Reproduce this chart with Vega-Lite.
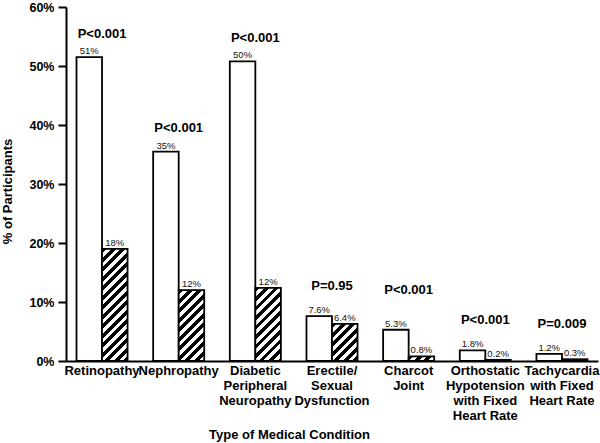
{
  "$schema": "https://vega.github.io/schema/vega-lite/v6.json",
  "width": 532,
  "height": 354,
  "autosize": {"type": "none"},
  "padding": {"left": 66, "top": 7, "right": 2, "bottom": 82},
  "background": "white",
  "config": {"view": {"stroke": null}, "font": "Liberation Sans"},
  "data": {
    "values": [
      {"condition": "Retinopathy", "group": "A", "value": 51.5, "label": "51%", "p": "P<0.001"},
      {"condition": "Retinopathy", "group": "B", "value": 19.0, "label": "18%", "p": "P<0.001"},
      {"condition": "Nephropathy", "group": "A", "value": 35.5, "label": "35%", "p": "P<0.001"},
      {"condition": "Nephropathy", "group": "B", "value": 12.0, "label": "12%", "p": "P<0.001"},
      {"condition": "Diabetic|Peripheral|Neuropathy", "group": "A", "value": 50.8, "label": "50%", "p": "P<0.001"},
      {"condition": "Diabetic|Peripheral|Neuropathy", "group": "B", "value": 12.4, "label": "12%", "p": "P<0.001"},
      {"condition": "Erectile/|Sexual|Dysfunction", "group": "A", "value": 7.6, "label": "7.6%", "p": "P=0.95"},
      {"condition": "Erectile/|Sexual|Dysfunction", "group": "B", "value": 6.3, "label": "6.4%", "p": "P=0.95"},
      {"condition": "Charcot|Joint", "group": "A", "value": 5.3, "label": "5.3%", "p": "P<0.001"},
      {"condition": "Charcot|Joint", "group": "B", "value": 0.8, "label": "0.8%", "p": "P<0.001"},
      {"condition": "Orthostatic|Hypotension|with Fixed|Heart Rate", "group": "A", "value": 1.8, "label": "1.8%", "p": "P<0.001"},
      {"condition": "Orthostatic|Hypotension|with Fixed|Heart Rate", "group": "B", "value": 0.2, "label": "0.2%", "p": "P<0.001"},
      {"condition": "Tachycardia|with Fixed|Heart Rate", "group": "A", "value": 1.2, "label": "1.2%", "p": "P=0.009"},
      {"condition": "Tachycardia|with Fixed|Heart Rate", "group": "B", "value": 0.3, "label": "0.3%", "p": "P=0.009"}
    ]
  },
  "encoding": {
    "x": {
      "field": "condition",
      "type": "nominal",
      "sort": null,
      "scale": {
        "domain": ["Retinopathy", "Nephropathy", "Diabetic|Peripheral|Neuropathy", "Erectile/|Sexual|Dysfunction", "Charcot|Joint", "Orthostatic|Hypotension|with Fixed|Heart Rate", "Tachycardia|with Fixed|Heart Rate"],
        "paddingInner": 0.334,
        "paddingOuter": 0.137
      },
      "axis": {
        "title": "Type of Medical Condition",
        "labelExpr": "split(datum.label, '|')",
        "labelAngle": 0,
        "ticks": false,
        "tickSize": 0,
        "labelPadding": 3,
        "labelFontSize": 13,
        "labelFontWeight": "bold",
        "labelLineHeight": 15,
        "labelLimit": 300,
        "labelOverlap": false,
        "labelBound": false,
        "labelColor": "black",
        "domainColor": "black",
        "domainWidth": 2,
        "titleFontSize": 13,
        "titleFontWeight": "bold",
        "titleColor": "black",
        "titleX": 223,
        "titleY": 77,
        "titleBaseline": "alphabetic"
      }
    },
    "y": {
      "field": "value",
      "type": "quantitative",
      "scale": {"domain": [0, 60], "nice": false},
      "axis": {
        "title": "% of Participants",
        "values": [0, 10, 20, 30, 40, 50, 60],
        "labelExpr": "datum.value + '%'",
        "grid": false,
        "tickSize": 8,
        "tickWidth": 2,
        "tickColor": "black",
        "domainColor": "black",
        "domainWidth": 2,
        "labelPadding": 4,
        "labelFontSize": 12.5,
        "labelFontWeight": "bold",
        "labelColor": "black",
        "titleFontSize": 13,
        "titleFontWeight": "bold",
        "titleColor": "black",
        "titleAngle": 270,
        "titleX": -55,
        "titleY": 184,
        "titleBaseline": "alphabetic",
        "titleAlign": "center"
      }
    }
  },
  "layer": [
    {
      "transform": [{"filter": "datum.group === 'A'"}],
      "mark": {"type": "bar", "fill": "white", "stroke": "black", "strokeWidth": 1.8},
      "encoding": {"xOffset": {"field": "group", "type": "nominal", "scale": {"domain": ["A", "B"], "paddingInner": 0, "paddingOuter": 0}}}
    },
    {
      "transform": [{"filter": "datum.group === 'B' && datum.condition === 'Retinopathy'"}],
      "mark": {"type": "bar", "stroke": "black", "strokeWidth": 1.8,
        "fill": {"gradient": "linear", "x1": 0, "y1": 0, "x2": 0.2933, "y2": 1.2893, "stops": [
          {"offset": 0, "color": "black"}, {"offset": 0.03125, "color": "black"}, {"offset": 0.03125, "color": "white"}, {"offset": 0.0625, "color": "white"},
          {"offset": 0.0625, "color": "black"}, {"offset": 0.09375, "color": "black"}, {"offset": 0.09375, "color": "white"}, {"offset": 0.125, "color": "white"},
          {"offset": 0.125, "color": "black"}, {"offset": 0.15625, "color": "black"}, {"offset": 0.15625, "color": "white"}, {"offset": 0.1875, "color": "white"},
          {"offset": 0.1875, "color": "black"}, {"offset": 0.21875, "color": "black"}, {"offset": 0.21875, "color": "white"}, {"offset": 0.25, "color": "white"},
          {"offset": 0.25, "color": "black"}, {"offset": 0.28125, "color": "black"}, {"offset": 0.28125, "color": "white"}, {"offset": 0.3125, "color": "white"},
          {"offset": 0.3125, "color": "black"}, {"offset": 0.34375, "color": "black"}, {"offset": 0.34375, "color": "white"}, {"offset": 0.375, "color": "white"},
          {"offset": 0.375, "color": "black"}, {"offset": 0.40625, "color": "black"}, {"offset": 0.40625, "color": "white"}, {"offset": 0.4375, "color": "white"},
          {"offset": 0.4375, "color": "black"}, {"offset": 0.46875, "color": "black"}, {"offset": 0.46875, "color": "white"}, {"offset": 0.5, "color": "white"},
          {"offset": 0.5, "color": "black"}, {"offset": 0.53125, "color": "black"}, {"offset": 0.53125, "color": "white"}, {"offset": 0.5625, "color": "white"},
          {"offset": 0.5625, "color": "black"}, {"offset": 0.59375, "color": "black"}, {"offset": 0.59375, "color": "white"}, {"offset": 0.625, "color": "white"},
          {"offset": 0.625, "color": "black"}, {"offset": 0.65625, "color": "black"}, {"offset": 0.65625, "color": "white"}, {"offset": 0.6875, "color": "white"},
          {"offset": 0.6875, "color": "black"}, {"offset": 0.71875, "color": "black"}, {"offset": 0.71875, "color": "white"}, {"offset": 0.75, "color": "white"},
          {"offset": 0.75, "color": "black"}, {"offset": 0.78125, "color": "black"}, {"offset": 0.78125, "color": "white"}, {"offset": 0.8125, "color": "white"},
          {"offset": 0.8125, "color": "black"}, {"offset": 0.84375, "color": "black"}, {"offset": 0.84375, "color": "white"}, {"offset": 0.875, "color": "white"},
          {"offset": 0.875, "color": "black"}, {"offset": 0.90625, "color": "black"}, {"offset": 0.90625, "color": "white"}, {"offset": 0.9375, "color": "white"},
          {"offset": 0.9375, "color": "black"}, {"offset": 0.96875, "color": "black"}, {"offset": 0.96875, "color": "white"}, {"offset": 1, "color": "white"}
        ]}},
      "encoding": {"xOffset": {"field": "group", "type": "nominal"}}
    },
    {
      "transform": [{"filter": "datum.group === 'B' && datum.condition === 'Nephropathy'"}],
      "mark": {"type": "bar", "stroke": "black", "strokeWidth": 1.8,
        "fill": {"gradient": "linear", "x1": 0, "y1": 0, "x2": 0.6844, "y2": 1.9004, "stops": [
          {"offset": 0, "color": "black"}, {"offset": 0.03125, "color": "black"}, {"offset": 0.03125, "color": "white"}, {"offset": 0.0625, "color": "white"},
          {"offset": 0.0625, "color": "black"}, {"offset": 0.09375, "color": "black"}, {"offset": 0.09375, "color": "white"}, {"offset": 0.125, "color": "white"},
          {"offset": 0.125, "color": "black"}, {"offset": 0.15625, "color": "black"}, {"offset": 0.15625, "color": "white"}, {"offset": 0.1875, "color": "white"},
          {"offset": 0.1875, "color": "black"}, {"offset": 0.21875, "color": "black"}, {"offset": 0.21875, "color": "white"}, {"offset": 0.25, "color": "white"},
          {"offset": 0.25, "color": "black"}, {"offset": 0.28125, "color": "black"}, {"offset": 0.28125, "color": "white"}, {"offset": 0.3125, "color": "white"},
          {"offset": 0.3125, "color": "black"}, {"offset": 0.34375, "color": "black"}, {"offset": 0.34375, "color": "white"}, {"offset": 0.375, "color": "white"},
          {"offset": 0.375, "color": "black"}, {"offset": 0.40625, "color": "black"}, {"offset": 0.40625, "color": "white"}, {"offset": 0.4375, "color": "white"},
          {"offset": 0.4375, "color": "black"}, {"offset": 0.46875, "color": "black"}, {"offset": 0.46875, "color": "white"}, {"offset": 0.5, "color": "white"},
          {"offset": 0.5, "color": "black"}, {"offset": 0.53125, "color": "black"}, {"offset": 0.53125, "color": "white"}, {"offset": 0.5625, "color": "white"},
          {"offset": 0.5625, "color": "black"}, {"offset": 0.59375, "color": "black"}, {"offset": 0.59375, "color": "white"}, {"offset": 0.625, "color": "white"},
          {"offset": 0.625, "color": "black"}, {"offset": 0.65625, "color": "black"}, {"offset": 0.65625, "color": "white"}, {"offset": 0.6875, "color": "white"}
        ]}},
      "encoding": {"xOffset": {"field": "group", "type": "nominal"}}
    },
    {
      "transform": [{"filter": "datum.group === 'B' && datum.condition === 'Diabetic|Peripheral|Neuropathy'"}],
      "mark": {"type": "bar", "stroke": "black", "strokeWidth": 1.8,
        "fill": {"gradient": "linear", "x1": 0, "y1": 0, "x2": 0.6458, "y2": 1.8528, "stops": [
          {"offset": 0, "color": "black"}, {"offset": 0.03125, "color": "black"}, {"offset": 0.03125, "color": "white"}, {"offset": 0.0625, "color": "white"},
          {"offset": 0.0625, "color": "black"}, {"offset": 0.09375, "color": "black"}, {"offset": 0.09375, "color": "white"}, {"offset": 0.125, "color": "white"},
          {"offset": 0.125, "color": "black"}, {"offset": 0.15625, "color": "black"}, {"offset": 0.15625, "color": "white"}, {"offset": 0.1875, "color": "white"},
          {"offset": 0.1875, "color": "black"}, {"offset": 0.21875, "color": "black"}, {"offset": 0.21875, "color": "white"}, {"offset": 0.25, "color": "white"},
          {"offset": 0.25, "color": "black"}, {"offset": 0.28125, "color": "black"}, {"offset": 0.28125, "color": "white"}, {"offset": 0.3125, "color": "white"},
          {"offset": 0.3125, "color": "black"}, {"offset": 0.34375, "color": "black"}, {"offset": 0.34375, "color": "white"}, {"offset": 0.375, "color": "white"},
          {"offset": 0.375, "color": "black"}, {"offset": 0.40625, "color": "black"}, {"offset": 0.40625, "color": "white"}, {"offset": 0.4375, "color": "white"},
          {"offset": 0.4375, "color": "black"}, {"offset": 0.46875, "color": "black"}, {"offset": 0.46875, "color": "white"}, {"offset": 0.5, "color": "white"},
          {"offset": 0.5, "color": "black"}, {"offset": 0.53125, "color": "black"}, {"offset": 0.53125, "color": "white"}, {"offset": 0.5625, "color": "white"},
          {"offset": 0.5625, "color": "black"}, {"offset": 0.59375, "color": "black"}, {"offset": 0.59375, "color": "white"}, {"offset": 0.625, "color": "white"},
          {"offset": 0.625, "color": "black"}, {"offset": 0.65625, "color": "black"}, {"offset": 0.65625, "color": "white"}, {"offset": 0.6875, "color": "white"}
        ]}},
      "encoding": {"xOffset": {"field": "group", "type": "nominal"}}
    },
    {
      "transform": [{"filter": "datum.group === 'B' && datum.condition === 'Erectile/|Sexual|Dysfunction'"}],
      "mark": {"type": "bar", "stroke": "black", "strokeWidth": 1.8,
        "fill": {"gradient": "linear", "x1": 0, "y1": 0, "x2": 1.9076, "y2": 2.7806, "stops": [
          {"offset": 0, "color": "black"}, {"offset": 0.03125, "color": "black"}, {"offset": 0.03125, "color": "white"}, {"offset": 0.0625, "color": "white"},
          {"offset": 0.0625, "color": "black"}, {"offset": 0.09375, "color": "black"}, {"offset": 0.09375, "color": "white"}, {"offset": 0.125, "color": "white"},
          {"offset": 0.125, "color": "black"}, {"offset": 0.15625, "color": "black"}, {"offset": 0.15625, "color": "white"}, {"offset": 0.1875, "color": "white"},
          {"offset": 0.1875, "color": "black"}, {"offset": 0.21875, "color": "black"}, {"offset": 0.21875, "color": "white"}, {"offset": 0.25, "color": "white"},
          {"offset": 0.25, "color": "black"}, {"offset": 0.28125, "color": "black"}, {"offset": 0.28125, "color": "white"}, {"offset": 0.3125, "color": "white"},
          {"offset": 0.3125, "color": "black"}, {"offset": 0.34375, "color": "black"}, {"offset": 0.34375, "color": "white"}, {"offset": 0.375, "color": "white"},
          {"offset": 0.375, "color": "black"}, {"offset": 0.40625, "color": "black"}, {"offset": 0.40625, "color": "white"}, {"offset": 0.4375, "color": "white"}
        ]}},
      "encoding": {"xOffset": {"field": "group", "type": "nominal"}}
    },
    {
      "transform": [{"filter": "datum.group === 'B' && (datum.condition === 'Charcot|Joint' || datum.condition === 'Orthostatic|Hypotension|with Fixed|Heart Rate' || datum.condition === 'Tachycardia|with Fixed|Heart Rate')"}],
      "mark": {"type": "bar", "stroke": "black", "strokeWidth": 1.8,
        "fill": {"gradient": "linear", "x1": 0, "y1": 0, "x2": 5.7636, "y2": 1.0668, "stops": [
          {"offset": 0, "color": "black"}, {"offset": 0.03125, "color": "black"}, {"offset": 0.03125, "color": "white"}, {"offset": 0.0625, "color": "white"},
          {"offset": 0.0625, "color": "black"}, {"offset": 0.09375, "color": "black"}, {"offset": 0.09375, "color": "white"}, {"offset": 0.125, "color": "white"},
          {"offset": 0.125, "color": "black"}, {"offset": 0.15625, "color": "black"}, {"offset": 0.15625, "color": "white"}, {"offset": 0.1875, "color": "white"},
          {"offset": 0.1875, "color": "black"}, {"offset": 0.21875, "color": "black"}, {"offset": 0.21875, "color": "white"}, {"offset": 0.25, "color": "white"}
        ]}},
      "encoding": {"xOffset": {"field": "group", "type": "nominal"}}
    },
    {
      "mark": {"type": "text", "fontSize": 9.5, "color": "#111", "baseline": "alphabetic", "dy": -3},
      "encoding": {
        "xOffset": {"field": "group", "type": "nominal"},
        "text": {"field": "label"}
      }
    },
    {
      "transform": [
        {"joinaggregate": [{"op": "max", "field": "value", "as": "maxv"}], "groupby": ["condition"]},
        {"filter": "datum.group === 'A' && (datum.condition === 'Retinopathy' || datum.condition === 'Nephropathy' || datum.condition === 'Diabetic|Peripheral|Neuropathy')"}
      ],
      "mark": {"type": "text", "fontSize": 13, "fontWeight": "bold", "color": "black", "baseline": "alphabetic", "dy": -19.5},
      "encoding": {"y": {"field": "maxv", "type": "quantitative"}, "text": {"field": "p"}}
    },
    {
      "transform": [
        {"joinaggregate": [{"op": "max", "field": "value", "as": "maxv"}], "groupby": ["condition"]},
        {"filter": "datum.group === 'A' && (datum.condition === 'Erectile/|Sexual|Dysfunction' || datum.condition === 'Orthostatic|Hypotension|with Fixed|Heart Rate' || datum.condition === 'Tachycardia|with Fixed|Heart Rate')"}
      ],
      "mark": {"type": "text", "fontSize": 13, "fontWeight": "bold", "color": "black", "baseline": "alphabetic", "dy": -26},
      "encoding": {"y": {"field": "maxv", "type": "quantitative"}, "text": {"field": "p"}}
    },
    {
      "transform": [
        {"joinaggregate": [{"op": "max", "field": "value", "as": "maxv"}], "groupby": ["condition"]},
        {"filter": "datum.group === 'A' && datum.condition === 'Charcot|Joint'"}
      ],
      "mark": {"type": "text", "fontSize": 13, "fontWeight": "bold", "color": "black", "baseline": "alphabetic", "dy": -36},
      "encoding": {"y": {"field": "maxv", "type": "quantitative"}, "text": {"field": "p"}}
    }
  ]
}
